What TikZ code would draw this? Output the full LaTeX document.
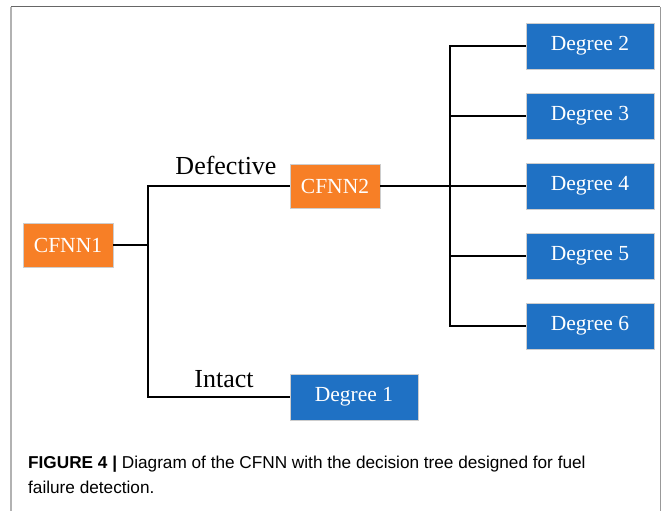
\documentclass[tikz,border=0pt]{standalone}
\usepackage{fontspec}
\setmainfont{Liberation Serif}
\newfontfamily\capfont{Liberation Sans}
\usetikzlibrary{positioning}

\definecolor{cfnnorange}{RGB}{247,127,38}
\definecolor{degblue}{RGB}{31,113,196}
\definecolor{boxedge}{RGB}{205,205,205}

\begin{document}
\begin{tikzpicture}[x=1pt, y=-1pt]
    \tikzset{
        cfnnbox/.style = {rectangle, draw=boxedge, line width=0.6pt, fill=cfnnorange, text=white,
                          minimum width=90pt, minimum height=44pt, inner sep=0pt,
                          font=\fontsize{21.5}{24}\selectfont},
        degbox/.style = {rectangle, draw=boxedge, line width=0.6pt, fill=degblue, text=white,
                         minimum width=128pt, minimum height=46pt, inner sep=0pt,
                         font=\fontsize{21.5}{24}\selectfont},
        branch/.style = {line width=1.6pt, black},
        lbl/.style = {font=\fontsize{26}{30}\selectfont, inner sep=0pt, anchor=base},
        capline/.style = {font=\capfont\fontsize{17.2}{25}\selectfont, inner sep=0pt, anchor=base west}
    }
    \useasboundingbox (0,0) rectangle (665,511);

    % frame round the figure
    \draw [line width=1pt, black!60] (11,7) -- (660,7);
    \draw [line width=1.2pt, black!30] (11,7) -- (11,511);
    \draw [line width=1pt, black!40] (660,7) -- (660,511);

    \node (cfnn1) [cfnnbox] at (68,245) {CFNN1};
    \node (cfnn2) [cfnnbox] at (335,186) {CFNN2};
    \node (deg1) [degbox] at (354,397) {Degree 1};
    \foreach \k/\y in {2/46, 3/116, 4/186, 5/256, 6/326}
        \node (deg\k) [degbox] at (590,\y) {Degree \k};

    \coordinate (j1) at (148,245);
    \coordinate (j2) at (450,186);

    \draw [branch] (cfnn1) -- (j1);
    \draw [branch] (j1) |- (cfnn2.west);
    \draw [branch] (j1) |- (deg1.west);
    \draw [branch] (cfnn2) -- (j2);
    \foreach \k in {2,...,6}
        \draw [branch] (j2) |- (deg\k.west);

    \node (defective) [lbl] at (226,175) {Defective};
    \node (intact) [lbl] at (224,387) {Intact};

    % caption
    \node (cap1) [capline] at (28,468) {\textbf{FIGURE 4 |} Diagram of the CFNN with the decision tree designed for fuel};
    \node (cap2) [capline] at (28,493) {failure detection.};
\end{tikzpicture}
\end{document}
